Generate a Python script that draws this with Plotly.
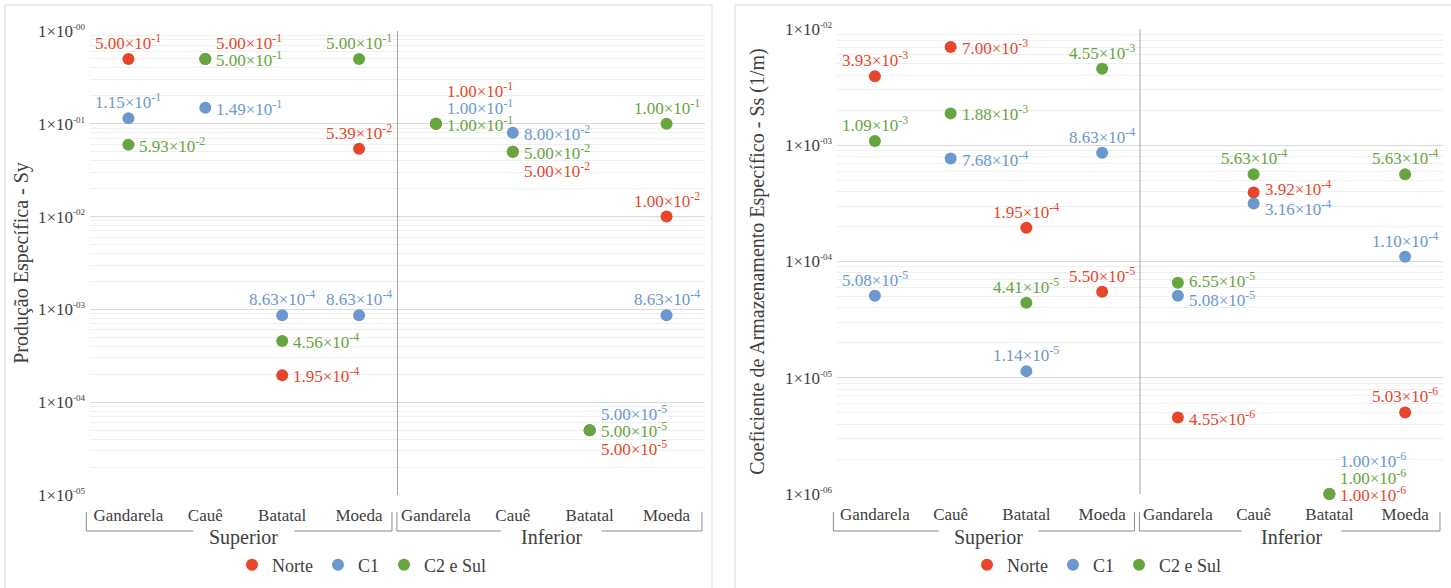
import math
import plotly.graph_objects as go

# Formation / unit categories (two groups of four)
groups = ["Superior", "Inferior"]
formations = ["Gandarela", "Cauê", "Batatal", "Moeda"]
categories = formations + formations
series_names = ["Norte", "C1", "C2 e Sul"]

# Specific yield (Sy)
sy_norte = [5.00e-1, 5.00e-1, 1.95e-4, 5.39e-2, 1.00e-1, 5.00e-2, 5.00e-5, 1.00e-2]
sy_c1 = [1.15e-1, 1.49e-1, 8.63e-4, 8.63e-4, 1.00e-1, 8.00e-2, 5.00e-5, 8.63e-4]
sy_c2sul = [5.93e-2, 5.00e-1, 4.56e-4, 5.00e-1, 1.00e-1, 5.00e-2, 5.00e-5, 1.00e-1]

# Specific storage coefficient (Ss, 1/m)
ss_norte = [3.93e-3, 7.00e-3, 1.95e-4, 5.50e-5, 4.55e-6, 3.92e-4, 1.00e-6, 5.03e-6]
ss_c1 = [5.08e-5, 7.68e-4, 1.14e-5, 8.63e-4, 5.08e-5, 3.16e-4, 1.00e-6, 1.10e-4]
ss_c2sul = [1.09e-3, 1.88e-3, 4.41e-5, 4.55e-3, 6.55e-5, 5.63e-4, 1.00e-6, 5.63e-4]

# Styling
colors = ["#E8462A", "#6B98CF", "#67A53E"]
FONT = "Liberation Serif"
W, H = 1451, 588

# Label placement codes per point: T = above, R = right,
# R1/R2 = right and stacked upward, Rd = right and below,
# Ru/Rl (Ru6/Rl6) = right with a slight nudge up/down
sy_place = [
    ["T", "R1", "R", "T", "R2", "Rd", "Rd", "T"],
    ["T", "R", "T", "T", "R1", "R", "R1", "T"],
    ["R", "R", "R", "T", "R", "R", "R", "T"],
]
ss_place = [
    ["T", "R", "T", "T", "R", "Ru6", "R", "T"],
    ["T", "R", "T", "T", "Rl", "Rl6", "R2", "T"],
    ["T", "R", "T", "T", "Ru", "T", "R1", "T"],
]
PLACE = {
    "T": ("center", 0, 17),
    "R": ("left", 9, 0),
    "Ru": ("left", 9, 3),
    "Rl": ("left", 9, -3),
    "Ru6": ("left", 9, 5),
    "Rl6": ("left", 9, -5),
    "R1": ("left", 9, 17),
    "R2": ("left", 9, 34),
    "Rd": ("left", 9, -18),
}


def sci_label(v):
    e = math.floor(math.log10(v) + 1e-9)
    m = v / 10 ** e
    return f"{m:.2f}×10<sup>{e}</sup>"


def tick_label(e):
    return f"1×10<sup><span style='font-size:9px'>-{abs(e):02d}</span></sup>"


def px(x):
    return x / W


def py(y):
    return 1 - y / H


panels = [
    dict(xa="x", ya="y", legend="legend", data=[sy_norte, sy_c1, sy_c2sul],
         place=sy_place, exps=list(range(-5, 1)),
         xdom=[px(90), px(705)], ydom=[py(495), py(31)], standoff=3,
         title="Produção Específica - Sy"),
    dict(xa="x2", ya="y2", legend="legend2", data=[ss_norte, ss_c1, ss_c2sul],
         place=ss_place, exps=list(range(-6, -1)),
         xdom=[px(837), px(1443)], ydom=[py(494), py(29)], standoff=14,
         title="Coeficiente de Armazenamento Específico - Ss (1/m)"),
]

fig = go.Figure()
annotations = []
shapes = []
xs = list(range(len(categories)))

for p in panels:
    for k, (name, vals) in enumerate(zip(series_names, p["data"])):
        fig.add_trace(go.Scatter(
            x=xs, y=vals, mode="markers", name=name,
            marker=dict(color=colors[k], size=12, line=dict(width=0)),
            xaxis=p["xa"], yaxis=p["ya"], legend=p["legend"], cliponaxis=False,
            hoverinfo="skip",
        ))
        for i, v in enumerate(vals):
            xanchor, dx, dy = PLACE[p["place"][k][i]]
            annotations.append(dict(
                x=i, y=math.log10(v), xref=p["xa"], yref=p["ya"],
                text=sci_label(v), showarrow=False,
                xanchor=xanchor, yanchor="middle", xshift=dx, yshift=dy,
                font=dict(family=FONT, size=17, color=colors[k]),
            ))

    xd = "x domain" if p["xa"] == "x" else "x2 domain"
    # divider between the two groups
    shapes.append(dict(type="line", xref=p["xa"], yref=p["ya"] + " domain",
                       x0=3.5, x1=3.5, y0=0, y1=1,
                       line=dict(color="#ADA5A5", width=1)))
    # group brackets under the category labels
    yt, yb = py(512), py(531)
    for g, (a, b, c) in enumerate([(-0.006, 0.491, 0.25), (0.499, 0.995, 0.75)]):
        gap = 0.082
        shapes.append(dict(type="path", xref=xd, yref="paper",
                           path=f"M {a},{yt} L {a},{yb} L {c - gap},{yb}",
                           line=dict(color="#8C8C8C", width=1)))
        shapes.append(dict(type="path", xref=xd, yref="paper",
                           path=f"M {c + gap},{yb} L {b},{yb} L {b},{yt}",
                           line=dict(color="#8C8C8C", width=1)))
        annotations.append(dict(x=c, y=py(537), xref=xd, yref="paper",
                                text=groups[g], showarrow=False,
                                xanchor="center", yanchor="middle",
                                font=dict(family=FONT, size=20, color="#404040")))

# panel frames
shapes.append(dict(type="rect", xref="paper", yref="paper",
                   x0=px(5), x1=px(712), y0=-0.05, y1=py(5),
                   line=dict(color="#D9D9D9", width=1)))
shapes.append(dict(type="rect", xref="paper", yref="paper",
                   x0=px(735), x1=1.05, y0=-0.05, y1=py(5),
                   line=dict(color="#D9D9D9", width=1)))

layout = dict(
    width=W, height=588,
    margin=dict(l=0, r=0, t=0, b=0, autoexpand=False),
    paper_bgcolor="white", plot_bgcolor="white",
    font=dict(family=FONT, color="#404040"),
    annotations=annotations, shapes=shapes,
    legend=dict(orientation="h", x=px(362), y=py(565), xanchor="center",
                yanchor="middle", font=dict(family=FONT, size=18, color="#404040"),
                bgcolor="rgba(0,0,0,0)", itemwidth=30),
    legend2=dict(orientation="h", x=px(1097), y=py(565), xanchor="center",
                 yanchor="middle", font=dict(family=FONT, size=18, color="#404040"),
                 bgcolor="rgba(0,0,0,0)", itemwidth=30),
)

for n, p in enumerate(panels):
    xkey = "xaxis" if n == 0 else "xaxis2"
    ykey = "yaxis" if n == 0 else "yaxis2"
    layout[xkey] = dict(
        domain=p["xdom"], anchor=p["ya"], range=[-0.5, 7.5], automargin=False,
        tickmode="array", tickvals=xs, ticktext=categories,
        showgrid=False, zeroline=False, showline=False, ticks="",
        ticklabelstandoff=8,
        tickfont=dict(family=FONT, size=17, color="#404040"),
    )
    lo, hi = p["exps"][0], p["exps"][-1]
    minor_vals = [m * 10.0 ** e for e in range(lo, hi) for m in range(2, 10)]
    layout[ykey] = dict(
        domain=p["ydom"], anchor=p["xa"], type="log", range=[lo, hi],
        automargin=False,
        tickmode="array", tickvals=[10.0 ** e for e in p["exps"]],
        ticktext=[tick_label(e) for e in p["exps"]],
        showgrid=True, gridcolor="#D9D9D9", gridwidth=1,
        minor=dict(tickmode="array", tickvals=minor_vals, showgrid=True,
                   gridcolor="#EFEFEF", gridwidth=1, ticks=""),
        zeroline=False, showline=False, ticks="", ticklabelstandoff=4,
        tickfont=dict(family=FONT, size=17, color="#404040"),
        title=dict(text=p["title"], standoff=p["standoff"],
                   font=dict(family=FONT, size=20, color="#404040")),
    )

fig.update_layout(**layout)
fig.write_html("out.html")
